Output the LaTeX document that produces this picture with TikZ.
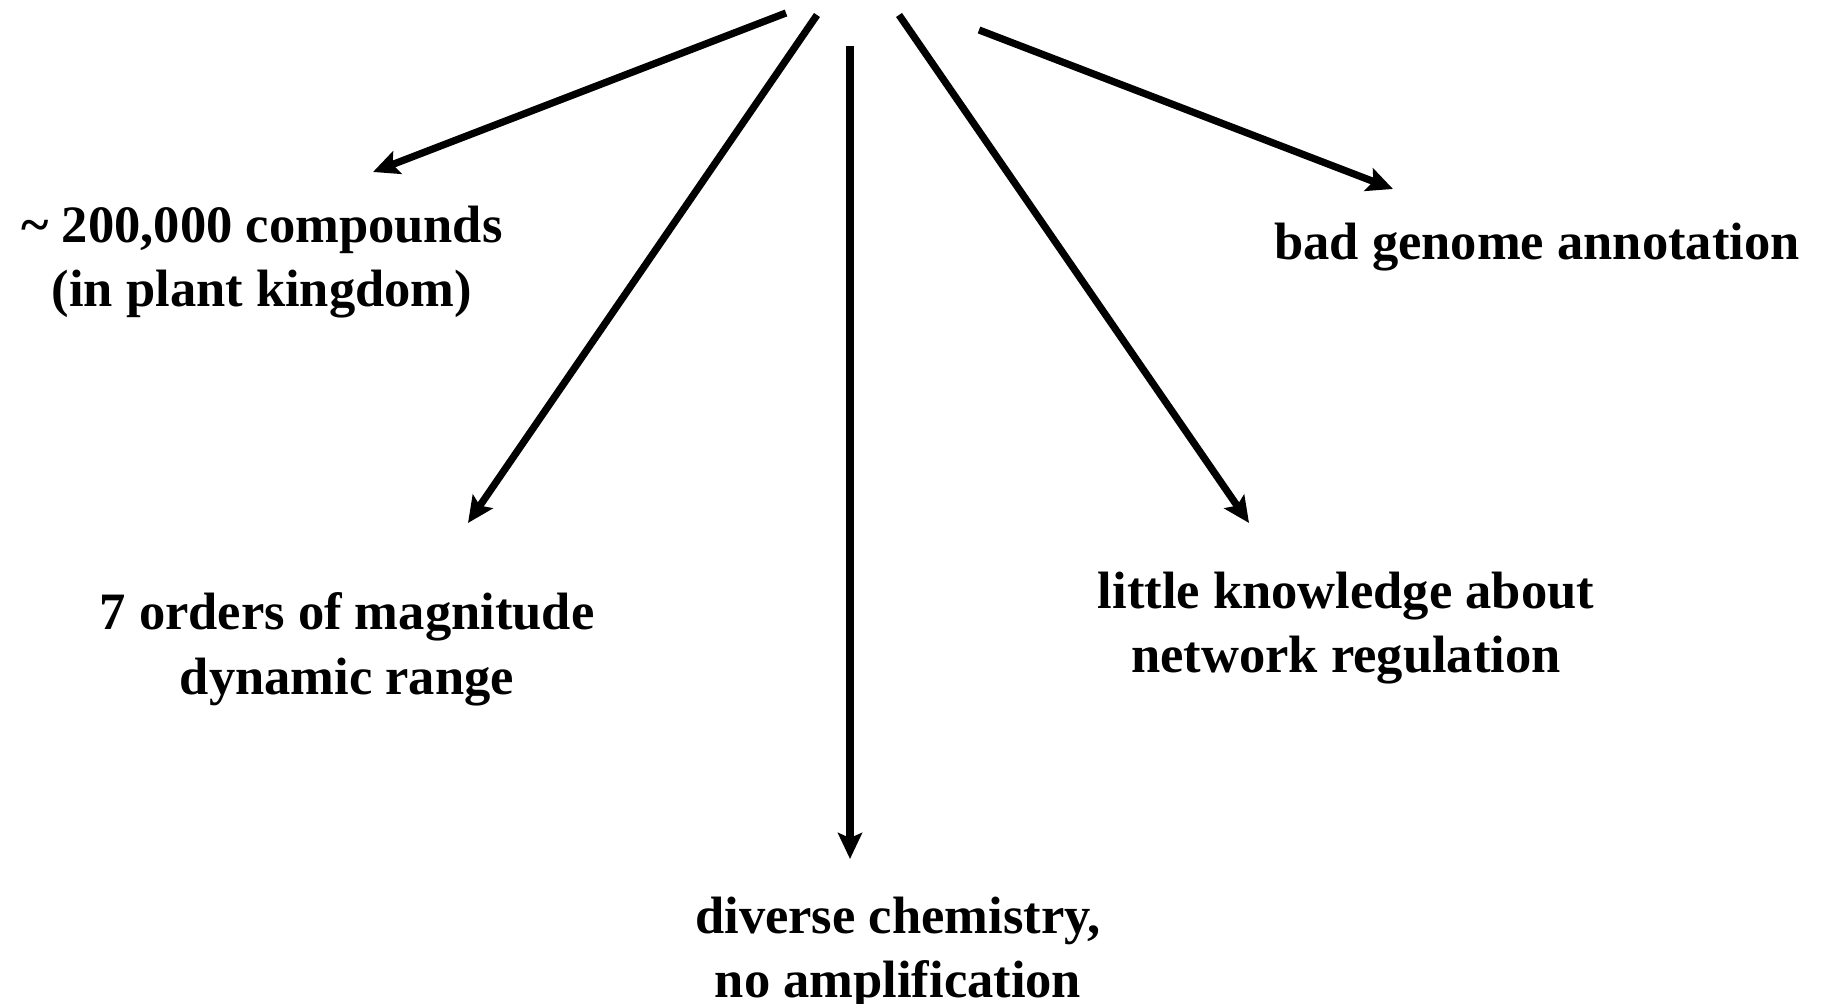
\documentclass[tikz,border=0pt]{standalone}
\usepackage{fontspec}
\setmainfont{Liberation Serif}
\usetikzlibrary{arrows.meta}
\begin{document}
\begin{tikzpicture}[x=0.01cm,y=-0.01cm,
  label/.style={align=center,inner sep=0pt,font=\bfseries\fontsize{14.94pt}{18.4pt}\selectfont},
  fanarrow/.style={line width=0.072cm,-{Stealth[length=0.26cm,width=0.24cm,inset=0.05cm]}}]
  \path[use as bounding box] (0,0) rectangle (1822,1004);

  % labels
  \node[label] (compounds) at (262,262) {\textasciitilde\ 200,000 compounds\\(in plant kingdom)};
  \node[label] (range) at (347,649) {7 orders of magnitude\\dynamic range};
  \node[label] (chem) at (898,953) {diverse chemistry,\\no amplification};
  \node[label] (network) at (1346,628) {little knowledge about\\network regulation};
  \node[label] (genome) at (1537,247) {bad genome annotation};

  % arrow start points
  \coordinate (s1) at (786,13);
  \coordinate (s2) at (817,15);
  \coordinate (s3) at (850,46);
  \coordinate (s4) at (899,15);
  \coordinate (s5) at (979,30);

  % arrow tips
  \coordinate (t1) at (373,172);
  \coordinate (t2) at (468,523);
  \coordinate (t3) at (850,859);
  \coordinate (t4) at (1249,523);
  \coordinate (t5) at (1393,189);

  \draw[fanarrow] (s1) -- (t1);
  \draw[fanarrow] (s2) -- (t2);
  \draw[fanarrow] (s3) -- (t3);
  \draw[fanarrow] (s4) -- (t4);
  \draw[fanarrow] (s5) -- (t5);
\end{tikzpicture}
\end{document}
